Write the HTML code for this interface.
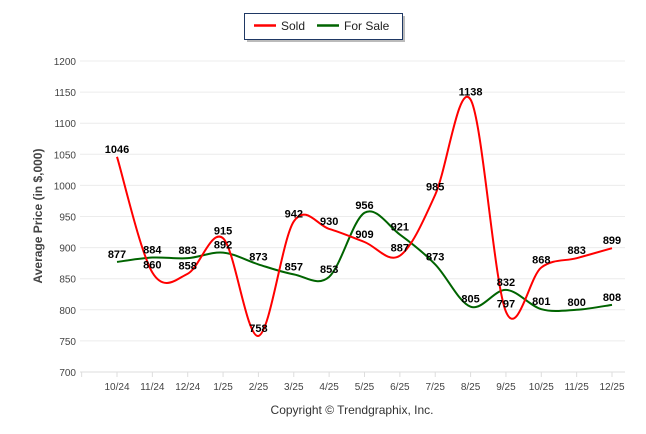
<!DOCTYPE html>
<html><head><meta charset="utf-8">
<style>
html,body{margin:0;padding:0;background:#fff;}
svg{display:block;font-family:"Liberation Sans",Arial,sans-serif;}
</style></head>
<body>
<svg id="chart" width="646" height="434" viewBox="0 0 646 434" xmlns="http://www.w3.org/2000/svg">
  <g>
    <rect x="247" y="16" width="158" height="26" fill="#bbb"/>
    <rect x="244.5" y="13.5" width="158" height="26" fill="#fff" stroke="#1f3864" stroke-width="1"/>
    <line x1="254" y1="25.5" x2="276" y2="25.5" stroke="#ff0000" stroke-width="2.5"/>
    <text x="281" y="30" font-size="12" fill="#222">Sold</text>
    <line x1="317" y1="25.5" x2="339" y2="25.5" stroke="#006400" stroke-width="2.5"/>
    <text x="344" y="30" font-size="12" fill="#222">For Sale</text>
  </g>
  <g id="grid"></g>
  <g id="series"></g>
  <g id="labels"></g>
  <text x="42" y="216" font-size="12" font-weight="bold" fill="#444" text-anchor="middle" transform="rotate(-90 42 216)">Average Price (in $,000)</text>
  <text x="352" y="414" font-size="12" fill="#333" text-anchor="middle">Copyright © Trendgraphix, Inc.</text>
</svg>
<script>
const categories = ["10/24","11/24","12/24","1/25","2/25","3/25","4/25","5/25","6/25","7/25","8/25","9/25","10/25","11/25","12/25"];
const soldValues = [1046,860,858,915,758,942,930,909,887,985,1138,797,868,883,899];
const forSaleValues = [877,884,883,892,873,857,853,956,921,873,805,832,801,800,808];
const yTicks = [700,750,800,850,900,950,1000,1050,1100,1150,1200];

const NS="http://www.w3.org/2000/svg";
const X0=117, XSTEP=(612-117)/14, Y700=372, PX_PER=311/500;
const xPos=i=>X0+i*XSTEP;
const yPos=v=>Y700-(v-700)*PX_PER;
function mk(tag,attrs,parent){const e=document.createElementNS(NS,tag);for(const k in attrs)e.setAttribute(k,attrs[k]);parent.appendChild(e);return e;}
const grid=document.getElementById('grid'), series=document.getElementById('series'), labels=document.getElementById('labels');

yTicks.forEach(t=>{
  const l=mk('line',{x1:80,x2:625,y1:yPos(t),y2:yPos(t),stroke:t===700?'#ddd':'#ececec','stroke-width':1},grid);
  
  
  const tx=mk('text',{x:76,y:yPos(t)+4,'font-size':10,fill:'#444','text-anchor':'end'},grid);
  tx.textContent=t;
  
  
});
for(let i=0;i<=categories.length+1;i++){
  const x=xPos(i-1)+0;
  const tk=mk('line',{x1:x,x2:x,y1:Y700,y2:Y700+5,stroke:'#ddd'},grid);
  
  
}
categories.forEach((c,i)=>{
  const t=mk('text',{x:xPos(i),y:390,'font-size':10,fill:'#444','text-anchor':'middle'},grid);
  t.textContent=c;
  
  
});
function pathFor(vals){
  const p=vals.map((v,i)=>[xPos(i),yPos(v)]);
  let d='M'+p[0][0]+','+p[0][1];
  for(let i=0;i<p.length-1;i++){
    const p0=p[i-1]||p[i],p1=p[i],p2=p[i+1],p3=p[i+2]||p2,k=1/6;
    d+=` C${p1[0]+(p2[0]-p0[0])*k},${p1[1]+(p2[1]-p0[1])*k} ${p2[0]-(p3[0]-p1[0])*k},${p2[1]-(p3[1]-p1[1])*k} ${p2[0]},${p2[1]}`;
  }
  return d;
}
const fs=mk('path',{d:pathFor(forSaleValues),fill:'none',stroke:'#006400','stroke-width':2},series);


const sd=mk('path',{d:pathFor(soldValues),fill:'none',stroke:'#ff0000','stroke-width':2},series);


function addLabels(vals,name){
  vals.forEach((v,i)=>{
    const t=mk('text',{x:xPos(i),y:yPos(v)-4,'font-size':11,'font-weight':'bold',fill:'#000','text-anchor':'middle'},labels);
    t.textContent=v;
    
    
  });
}
addLabels(forSaleValues,'for-sale');
addLabels(soldValues,'sold');
</script>
</body></html>
